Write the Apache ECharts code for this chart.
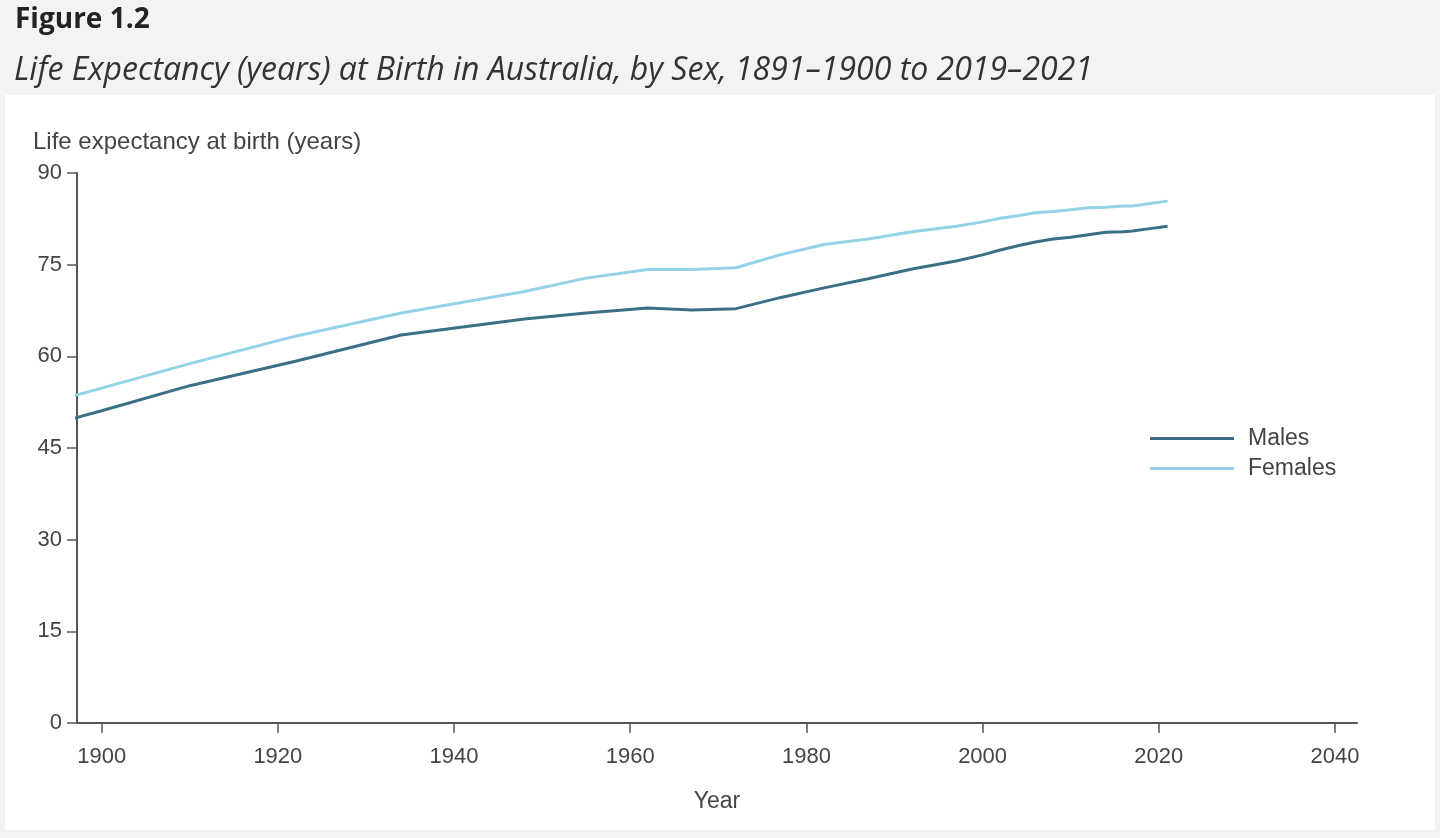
<!DOCTYPE html>
<html lang="en">
<head>
    <meta charset="utf-8">
    <script src="https://cdn.jsdelivr.net/npm/echarts@6/dist/echarts.min.js"></script>
    <style>
        html, body {
            margin: 0;
            padding: 0;
            background: #f3f3f3;
        }
        #life_map {
            width: 1440px;
            height: 838px;
        }
    </style>
</head>
<body>
<div id="life_map"></div>

<script>
    // 数据：各时期末年 → 出生时预期寿命
    var years   = [1890, 1900, 1910, 1922, 1934, 1948, 1955, 1962, 1967, 1972, 1977, 1982, 1987, 1992, 1997,
                   2000, 2002, 2004, 2006, 2008, 2010, 2012, 2014, 2016, 2017, 2019, 2021];
    var males   = [47.2, 51.1, 55.2, 59.2, 63.5, 66.1, 67.1, 67.9, 67.6, 67.8, 69.6, 71.2, 72.7, 74.3, 75.6,
                   76.6, 77.4, 78.1, 78.7, 79.2, 79.5, 79.9, 80.3, 80.4, 80.5, 80.9, 81.3];
    var females = [50.8, 54.8, 58.8, 63.3, 67.1, 70.6, 72.8, 74.2, 74.2, 74.5, 76.6, 78.3, 79.2, 80.4, 81.3,
                   82.0, 82.6, 83.0, 83.5, 83.7, 84.0, 84.3, 84.4, 84.6, 84.6, 85.0, 85.4];
    var xTicks  = [1900, 1920, 1940, 1960, 1980, 2000, 2020, 2040];
    var yTicks  = [0, 15, 30, 45, 60, 75, 90];

    function pairs(ys) {
        return years.map(function (y, i) { return [y, ys[i]]; });
    }

    var axisColor = '#555';
    var textColor = '#444';
    var font = '"Liberation Sans", Arial, sans-serif';

    var myChart = echarts.init(document.getElementById('life_map'));

    var option = {
        animation: false,
        textStyle: { fontFamily: font },
        title: [{
            text: 'Figure 1.2',
            left: 10,
            top: 1,
            textStyle: { fontFamily: '"Open Sans", sans-serif', fontSize: 28, fontWeight: 'bold', color: '#222' }
        }, {
            text: 'Life Expectancy (years) at Birth in Australia, by Sex, 1891\u20131900 to 2019\u20132021',
            left: 9,
            top: 50,
            textStyle: { fontFamily: '"Open Sans", sans-serif', fontSize: 32, fontStyle: 'italic', fontWeight: 'normal', color: '#333' }
        }],
        graphic: [{
            type: 'rect',
            z: -10,
            shape: { x: 5, y: 95, width: 1430, height: 735 },
            style: { fill: '#ffffff' }
        }, {
            type: 'text',
            left: 33,
            top: 130,
            style: { text: 'Life expectancy at birth (years)', font: '24px ' + font, fill: textColor }
        }],
        grid: {
            left: 77,
            right: 83,
            top: 173,
            bottom: 115
        },
        legend: {
            data: ['Males', 'Females'],
            orient: 'vertical',
            left: 1145,
            top: 422,
            icon: 'rect',
            itemWidth: 84,
            itemHeight: 3,
            itemGap: 7,
            textStyle: { fontSize: 23, color: textColor, padding: [0, 0, 0, 9] }
        },
        xAxis: {
            type: 'value',
            min: 1897.2,
            max: 2042.5,
            name: 'Year',
            nameLocation: 'middle',
            nameGap: 67,
            nameTextStyle: { fontSize: 23, color: textColor },
            splitLine: { show: false },
            axisLine: { lineStyle: { color: axisColor, width: 2 } },
            axisTick: { show: true, length: 10, customValues: xTicks, lineStyle: { color: axisColor, width: 1.5 } },
            axisLabel: {
                customValues: xTicks,
                fontSize: 22,
                color: textColor,
                margin: 23,
                formatter: function (v) { return String(v); }
            }
        },
        yAxis: {
            type: 'value',
            min: 0,
            max: 90,
            interval: 15,
            splitLine: { show: false },
            axisLine: { show: true, lineStyle: { color: axisColor, width: 2 } },
            axisTick: { show: true, length: 10, lineStyle: { color: axisColor, width: 1.5 } },
            axisLabel: { customValues: yTicks, fontSize: 22, color: textColor, margin: 15 }
        },
        series: [{
            name: 'Males',
            type: 'line',
            symbol: 'none',
            clip: true,
            data: pairs(males),
            lineStyle: { color: '#3a6f86', width: 3 },
            itemStyle: { color: '#3a6f86' }
        }, {
            name: 'Females',
            type: 'line',
            symbol: 'none',
            clip: true,
            data: pairs(females),
            lineStyle: { color: '#94d2e8', width: 3 },
            itemStyle: { color: '#94d2e8' }
        }]
    };

    myChart.setOption(option);
</script>
</body>
</html>
